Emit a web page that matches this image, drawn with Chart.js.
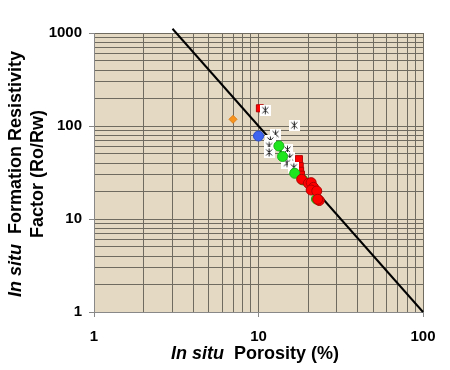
<!DOCTYPE html>
<html>
<head>
<meta charset="utf-8">
<script src="https://cdn.jsdelivr.net/npm/chart.js@4"></script>
<style>
  body { margin: 0; background: #ffffff; }
  #wrap { width: 450px; height: 370px; }
</style>
</head>
<body>
<div id="wrap"><canvas id="chart" width="450" height="370"></canvas></div>
<script>
// porosity (%) / formation factor pairs
const redSquareX = [10.2, 17.6, 17.8, 17.9, 18.1];
const redSquareY = [155, 44, 37, 33, 30];

const redCircleX = [18.3, 20.1, 20.9, 21.6, 20.9, 22.6, 23.4, 22.9];
const redCircleY = [26.7, 24.2, 24.6, 21.9, 20.5, 20.0, 15.8, 16.3];

const greenX = [13.3, 14.0, 16.6, 18.6, 22.5];
const greenY = [61, 47, 31, 26.3, 16.4];

const starX = [11.0, 16.5, 12.7, 11.8, 11.6, 11.6, 15.0, 15.5, 14.9, 16.4];
const starY = [148, 102, 82, 70, 61, 52, 55.6, 46, 40, 36];

const blueX = [10];
const blueY = [78];

const orangeX = [7];
const orangeY = [118];

// Archie trend line end points
const trendX = [3, 100];
const trendY = [1111, 1];

const xDecades = [1, 10, 100];
const yDecades = [1, 10, 100, 1000];

const FONT = "'Liberation Sans', Arial, sans-serif";
const GRID = "#6f6b61";

function pairs(xs, ys) {
  return xs.map((x, i) => ({ x: x, y: ys[i] }));
}

function logTicks(decades) {
  const out = [];
  for (let d = 0; d < decades.length - 1; d++) {
    for (let k = 1; k < 10; k++) out.push({ value: decades[d] * k });
  }
  out.push({ value: decades[decades.length - 1] });
  return out;
}

function isDecade(v) {
  const l = Math.log10(v);
  return Math.abs(l - Math.round(l)) < 1e-6;
}

// white box with a black asterisk, like the spreadsheet marker
function starMarker() {
  const c = document.createElement("canvas");
  c.width = 11; c.height = 11;
  const g = c.getContext("2d");
  g.fillStyle = "#ffffff";
  g.fillRect(0, 0, 11, 11);
  g.strokeStyle = "#222222";
  g.lineWidth = 1;
  g.beginPath();
  g.moveTo(2.5, 2.5); g.lineTo(8.5, 8.5);
  g.moveTo(8.5, 2.5); g.lineTo(2.5, 8.5);
  g.moveTo(5.5, 1.5); g.lineTo(5.5, 9.5);
  g.stroke();
  return c;
}

const plotBackground = {
  id: "plotBackground",
  beforeDraw(chart) {
    const a = chart.chartArea;
    const ctx = chart.ctx;
    ctx.save();
    ctx.fillStyle = "#e4dac4";
    ctx.fillRect(a.left, a.top, a.right - a.left, a.bottom - a.top);
    ctx.restore();
  }
};

// axis titles mix italic and upright text, so draw them by hand
function drawMixed(ctx, parts, cx, cy) {
  let total = 0;
  parts.forEach(p => {
    ctx.font = p.font;
    p.w = ctx.measureText(p.text).width;
    total += p.w + (p.gap || 0);
  });
  let x = cx - total / 2;
  parts.forEach(p => {
    ctx.font = p.font;
    ctx.fillText(p.text, x, cy);
    x += p.w + (p.gap || 0);
  });
}

const axisTitles = {
  id: "axisTitles",
  afterDraw(chart) {
    const ctx = chart.ctx;
    const it = "italic bold 18px " + FONT;
    const bd = "bold 18px " + FONT;
    ctx.save();
    ctx.fillStyle = "#000000";
    ctx.textBaseline = "middle";
    ctx.textAlign = "left";
    drawMixed(ctx, [
      { text: "In situ", font: it, gap: 10 },
      { text: "Porosity (%)", font: bd }
    ], 255, 354);

    ctx.translate(16, 174);
    ctx.rotate(-Math.PI / 2);
    drawMixed(ctx, [
      { text: "In situ", font: it, gap: 10 },
      { text: "Formation Resistivity", font: bd }
    ], 0, 0);
    ctx.restore();

    ctx.save();
    ctx.fillStyle = "#000000";
    ctx.textBaseline = "middle";
    ctx.textAlign = "left";
    ctx.translate(38, 174);
    ctx.rotate(-Math.PI / 2);
    drawMixed(ctx, [{ text: "Factor (Ro/Rw)", font: bd }], 0, 0);
    ctx.restore();
  }
};

function axis(min, max, decades, isX) {
  return {
    type: "logarithmic",
    min: min,
    max: max,
    afterBuildTicks(scale) { scale.ticks = logTicks(decades); },
    afterFit(scale) {
      if (isX) scale.height = 58; else scale.width = 94;
    },
    ticks: {
      autoSkip: false,
      maxRotation: 0,
      color: "#000000",
      font: { family: FONT, size: 15, weight: "bold" },
      padding: isX ? 11 : 7,
      callback: v => (isDecade(v) ? String(v) : "")
    },
    grid: {
      color: GRID,
      lineWidth: 1,
      tickLength: 5,
      tickColor: c => (c.tick && isDecade(c.tick.value) ? "#888888" : "rgba(0,0,0,0)")
    },
    border: { color: "#888888", width: 1 }
  };
}

window.addEventListener("DOMContentLoaded", () => {
  const ctx = document.getElementById("chart");
  const star = starMarker();

  new Chart(ctx, {
    type: "scatter",
    data: {
      datasets: [
        {
          label: "Red circles",
          data: pairs(redCircleX, redCircleY),
          pointStyle: "circle",
          pointRadius: 5,
          backgroundColor: "#ff0000",
          borderColor: "#b30000",
          borderWidth: 1,
          order: 1
        },
        {
          label: "Green",
          data: pairs(greenX, greenY),
          pointStyle: "circle",
          pointRadius: 5,
          backgroundColor: "#1fe51f",
          borderColor: "#16b816",
          borderWidth: 1,
          order: 2
        },
        {
          label: "Stars",
          data: pairs(starX, starY),
          pointStyle: star,
          pointRadius: 5,
          order: 3
        },
        {
          label: "Red squares",
          data: pairs(redSquareX, redSquareY),
          pointStyle: "rect",
          pointRadius: 5,
          backgroundColor: "#ff0000",
          borderColor: "#b30000",
          borderWidth: 1,
          order: 4
        },
        {
          label: "Blue",
          data: pairs(blueX, blueY),
          pointStyle: "circle",
          pointRadius: 5,
          backgroundColor: "#3c64f0",
          borderColor: "#2a4cc8",
          borderWidth: 1,
          order: 5
        },
        {
          label: "Orange",
          data: pairs(orangeX, orangeY),
          pointStyle: "rectRot",
          pointRadius: 4,
          backgroundColor: "#f7941d",
          borderColor: "#e0801a",
          borderWidth: 1,
          order: 6
        },
        {
          label: "Trend",
          type: "line",
          data: pairs(trendX, trendY),
          borderColor: "#000000",
          borderWidth: 2,
          pointRadius: 0,
          showLine: true,
          fill: false,
          clip: false,
          order: 7
        }
      ]
    },
    options: {
      responsive: false,
      animation: false,
      layout: { padding: { top: 33, right: 27, left: 0, bottom: 0 } },
      plugins: {
        legend: { display: false },
        tooltip: { enabled: false }
      },
      scales: {
        x: axis(1, 100, xDecades, true),
        y: axis(1, 1000, yDecades, false)
      }
    },
    plugins: [plotBackground, axisTitles]
  });
});
</script>
</body>
</html>
